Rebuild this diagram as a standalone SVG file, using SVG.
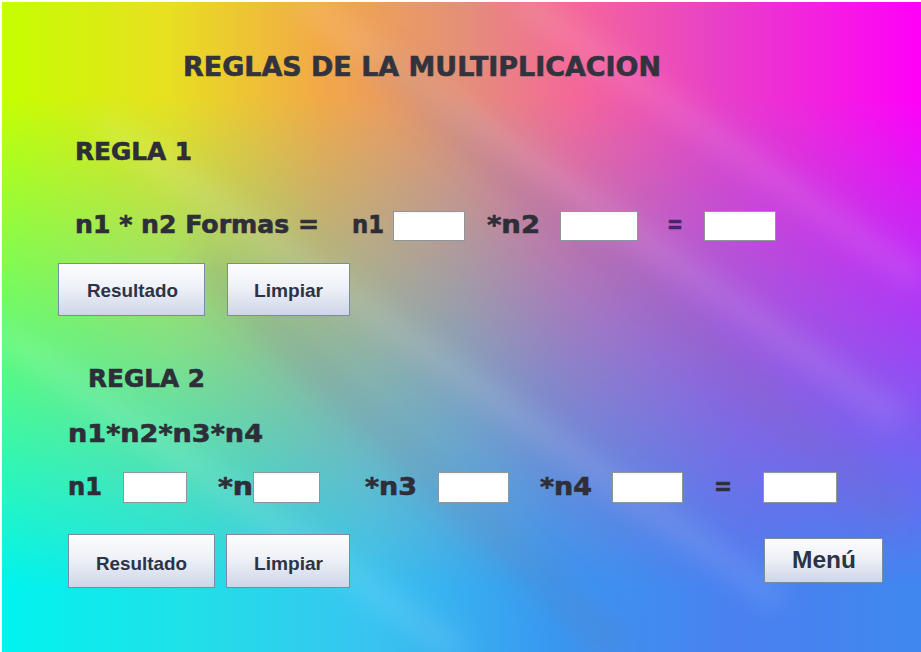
<svg xmlns="http://www.w3.org/2000/svg" width="921" height="652" viewBox="0 0 921 652">
<defs>
<linearGradient id="gTop" x1="0" y1="0" x2="1" y2="0">
<stop offset="0" stop-color="#c4ff00"/>
<stop offset="0.18" stop-color="#e8e020"/>
<stop offset="0.35" stop-color="#f2a848"/>
<stop offset="0.5" stop-color="#e49078"/>
<stop offset="0.62" stop-color="#f46898"/>
<stop offset="0.78" stop-color="#e840c8"/>
<stop offset="1" stop-color="#ff00f8"/>
</linearGradient>
<linearGradient id="gBot" x1="0" y1="0" x2="1" y2="0">
<stop offset="0" stop-color="#00f4f0"/>
<stop offset="0.2" stop-color="#20e0e8"/>
<stop offset="0.4" stop-color="#38c4f0"/>
<stop offset="0.6" stop-color="#3898f0"/>
<stop offset="0.8" stop-color="#4a80f0"/>
<stop offset="1" stop-color="#4088f0"/>
</linearGradient>
<linearGradient id="gMask" x1="0" y1="0" x2="0" y2="1">
<stop offset="0" stop-color="#fff"/>
<stop offset="0.15" stop-color="#fff"/>
<stop offset="0.9" stop-color="#000"/>
<stop offset="1" stop-color="#000"/>
</linearGradient>
<mask id="mTop" maskUnits="userSpaceOnUse" x="0" y="0" width="921" height="652">
<rect x="0" y="0" width="921" height="652" fill="url(#gMask)"/>
</mask>
<linearGradient id="gBtn" x1="0" y1="0" x2="0" y2="1">
<stop offset="0" stop-color="#fdfdfe"/>
<stop offset="0.45" stop-color="#eef1f7"/>
<stop offset="1" stop-color="#cdd5e8"/>
</linearGradient>
<filter id="blur" x="-20%" y="-20%" width="140%" height="140%">
<feGaussianBlur stdDeviation="12"/>
</filter>
<style>
.lbl{font-family:"DejaVu Sans","Verdana",sans-serif;font-weight:bold;font-size:24px;fill:#2e2e38;stroke:#2e2e38;stroke-width:0.6}
.ttl{font-family:"DejaVu Sans","Verdana",sans-serif;font-weight:bold;font-size:26px;fill:#33333d;stroke:#33333d;stroke-width:0.6}
.btn rect{fill:url(#gBtn);stroke:#7d8aa2;stroke-width:1}
.btn text{font-family:"Liberation Sans","Arial",sans-serif;font-weight:bold;font-size:19px;fill:#2b3347;text-anchor:start}
.fld rect{fill:#ffffff;stroke:#8e969c;stroke-width:1}
.fld line{stroke:#eef0f2;stroke-width:1}
</style>
</defs>

<g id="background">
<rect x="0" y="0" width="921" height="652" fill="#ffffff"/>
<rect x="2" y="2" width="919" height="650" fill="url(#gBot)"/>
<rect x="2" y="2" width="919" height="650" fill="url(#gTop)" mask="url(#mTop)"/>
<g filter="url(#blur)" stroke="#ffffff" stroke-opacity="0.10" stroke-width="26" fill="none">
<line x1="300" y1="0" x2="900" y2="420"/>
<line x1="100" y1="120" x2="780" y2="600"/>
<line x1="0" y1="330" x2="460" y2="652"/>
<line x1="520" y1="0" x2="921" y2="280"/>
</g>
<g filter="url(#blur)" stroke="#806090" stroke-opacity="0.12" stroke-width="40" fill="none">
<line x1="380" y1="60" x2="900" y2="520"/>
<line x1="200" y1="260" x2="620" y2="652"/>
</g>
</g>

<g id="title"><text class="ttl" x="183" y="76" textLength="478" lengthAdjust="spacingAndGlyphs">REGLAS DE LA MULTIPLICACION</text></g>

<g id="regla1">
<text class="lbl" x="75" y="160" textLength="117" lengthAdjust="spacingAndGlyphs">REGLA 1</text>
</g>
<g id="regla1-formula">
<text class="lbl" x="75" y="233" textLength="244" lengthAdjust="spacingAndGlyphs">n1 * n2 Formas =</text>
<text class="lbl" x="352" y="233" textLength="32" lengthAdjust="spacingAndGlyphs">n1</text>
<text class="lbl" x="487" y="233" textLength="53" lengthAdjust="spacingAndGlyphs">*n2</text>
<text class="lbl" x="667" y="233" textLength="16" lengthAdjust="spacingAndGlyphs" style="fill:#46246a;stroke:#46246a">=</text>
</g>
<g id="r1-field1" class="fld"><rect x="393.5" y="211.5" width="71" height="29"/><line x1="395" y1="213" x2="463" y2="213"/></g>
<g id="r1-field2" class="fld"><rect x="560.5" y="211.5" width="77" height="29"/><line x1="562" y1="213" x2="636" y2="213"/></g>
<g id="r1-field3" class="fld"><rect x="704.5" y="211.5" width="71" height="29"/><line x1="706" y1="213" x2="774" y2="213"/></g>
<g id="r1-resultado" class="btn"><rect x="58.5" y="263.5" width="146" height="52"/><text x="87" y="297" textLength="91" lengthAdjust="spacingAndGlyphs">Resultado</text></g>
<g id="r1-limpiar" class="btn"><rect x="227.5" y="263.5" width="122" height="52"/><text x="254" y="297" textLength="69" lengthAdjust="spacingAndGlyphs">Limpiar</text></g>

<g id="regla2">
<text class="lbl" x="88" y="387" textLength="117" lengthAdjust="spacingAndGlyphs">REGLA 2</text>
</g>
<g id="regla2-formula">
<text class="lbl" x="68" y="442" textLength="195" lengthAdjust="spacingAndGlyphs">n1*n2*n3*n4</text>
<text class="lbl" x="68" y="495" textLength="34" lengthAdjust="spacingAndGlyphs">n1</text>
<text class="lbl" x="218" y="495" textLength="35" lengthAdjust="spacingAndGlyphs">*n</text>
<text class="lbl" x="365" y="495" textLength="52" lengthAdjust="spacingAndGlyphs">*n3</text>
<text class="lbl" x="540" y="495" textLength="52" lengthAdjust="spacingAndGlyphs">*n4</text>
<text class="lbl" x="714" y="495" textLength="18" lengthAdjust="spacingAndGlyphs">=</text>
</g>
<g id="r2-field1" class="fld"><rect x="123.5" y="472.5" width="63" height="30"/><line x1="125" y1="474" x2="185" y2="474"/></g>
<g id="r2-field2" class="fld"><rect x="253.5" y="472.5" width="66" height="30"/><line x1="255" y1="474" x2="318" y2="474"/></g>
<g id="r2-field3" class="fld"><rect x="438.5" y="472.5" width="70" height="30"/><line x1="440" y1="474" x2="507" y2="474"/></g>
<g id="r2-field4" class="fld"><rect x="612.5" y="472.5" width="70" height="30"/><line x1="614" y1="474" x2="681" y2="474"/></g>
<g id="r2-field5" class="fld"><rect x="763.5" y="472.5" width="73" height="30"/><line x1="765" y1="474" x2="835" y2="474"/></g>
<g id="r2-resultado" class="btn"><rect x="68.5" y="534.5" width="146" height="53"/><text x="96" y="570" textLength="91" lengthAdjust="spacingAndGlyphs">Resultado</text></g>
<g id="r2-limpiar" class="btn"><rect x="226.5" y="534.5" width="123" height="53"/><text x="254" y="570" textLength="69" lengthAdjust="spacingAndGlyphs">Limpiar</text></g>
<g id="menu" class="btn"><rect x="764.5" y="538.5" width="118" height="44"/><text x="792" y="568" textLength="64" lengthAdjust="spacingAndGlyphs" style="font-size:23px">Menú</text></g>
<g id="connectors"/>
</svg>
